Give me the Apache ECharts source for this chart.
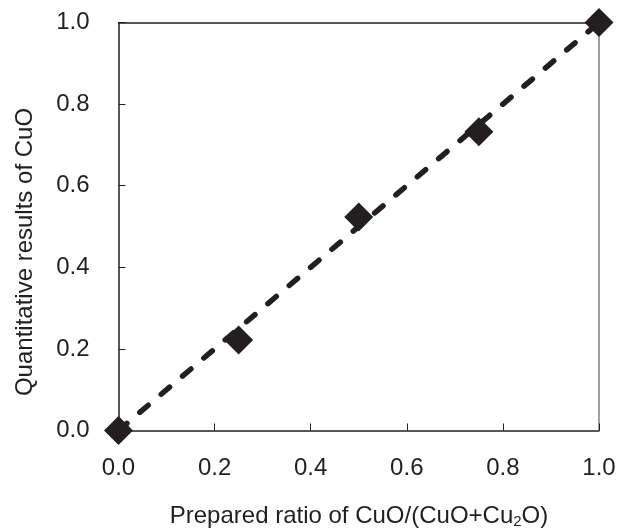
<!DOCTYPE html>
<html>
<head>
<meta charset="utf-8">
<script src="https://cdn.jsdelivr.net/npm/echarts@6/dist/echarts.min.js"></script>
<style>
  html, body { margin: 0; padding: 0; background: #fff; }
  #chart-container { width: 623px; height: 530px; }
</style>
</head>
<body>
<div id="chart-container"></div>
<script>
// prepared ratio vs quantitative result
const preparedRatio = [0, 0.25, 0.5, 0.75, 1.0];
const measuredCuO = [0, 0.222, 0.523, 0.732, 1.0];
// dashed reference line y = x
const refLine = [[0, 0], [1, 1]];
const tickLabels = ['0.0', '0.2', '0.4', '0.6', '0.8', '1.0'];

const ink = '#231f20';
const font = 'Liberation Sans, Arial, sans-serif';

const chart = echarts.init(document.getElementById('chart-container'), null, {renderer: 'canvas'});

const fmt = v => tickLabels[Math.round(v * 5)] ?? v.toFixed(1);

const baseAxis = {
    type: 'value',
    min: 0,
    max: 1,
    interval: 0.2,
    splitLine: {show: false},
};

chart.setOption({
    animation: false,
    backgroundColor: '#fff',
    grid: {left: 118.5, right: 24, top: 22.5, bottom: 99.5, containLabel: false},
    xAxis: [
        {
            ...baseAxis,
            position: 'bottom',
            axisLine: {show: true, onZero: false, lineStyle: {color: ink, width: 1.5}},
            axisTick: {show: true, inside: true, length: 7, lineStyle: {color: ink, width: 1}},
            axisLabel: {color: ink, fontSize: 24, fontFamily: font, margin: 26, formatter: fmt},
        },
        {
            ...baseAxis,
            position: 'top',
            axisLine: {show: true, onZero: false, lineStyle: {color: ink, width: 1.5}},
            axisTick: {show: false},
            axisLabel: {show: false},
        },
    ],
    yAxis: [
        {
            ...baseAxis,
            position: 'left',
            axisLine: {show: true, onZero: false, lineStyle: {color: ink, width: 1.5}},
            axisTick: {show: true, inside: true, length: 7, lineStyle: {color: ink, width: 1}},
            axisLabel: {color: ink, fontSize: 24, fontFamily: font, margin: 29, formatter: fmt},
        },
        {
            ...baseAxis,
            position: 'right',
            axisLine: {show: true, onZero: false, lineStyle: {color: '#808080', width: 1.5}},
            axisTick: {show: false},
            axisLabel: {show: false},
        },
    ],
    graphic: [
        {
            type: 'text',
            x: 359,
            y: 516,
            style: {
                text: 'Prepared ratio of CuO/(CuO+Cu{sub|2}O)',
                rich: {
                    sub: {fontSize: 15, fontFamily: font, fill: ink, padding: [12, 0, 0, 0]},
                },
                fontSize: 24,
                fontFamily: font,
                fill: ink,
                align: 'center',
                verticalAlign: 'middle',
            },
        },
        {
            type: 'text',
            x: 25,
            y: 252,
            rotation: Math.PI / 2,
            style: {
                text: 'Quantitative results of CuO',
                fontSize: 24,
                fontFamily: font,
                fill: ink,
                align: 'center',
                verticalAlign: 'middle',
            },
        },
    ],
    series: [
        {
            type: 'scatter',
            data: preparedRatio.map((x, i) => [x, measuredCuO[i]]),
            symbol: 'diamond',
            symbolSize: [29, 29],
            itemStyle: {color: ink, opacity: 1},
            clip: false,
            z: 2,
        },
        {
            type: 'line',
            data: refLine,
            showSymbol: false,
            symbol: 'none',
            lineStyle: {color: ink, width: 5.5, type: [11, 17], cap: 'round', opacity: 1},
            z: 3,
        },
    ],
});
</script>
</body>
</html>
